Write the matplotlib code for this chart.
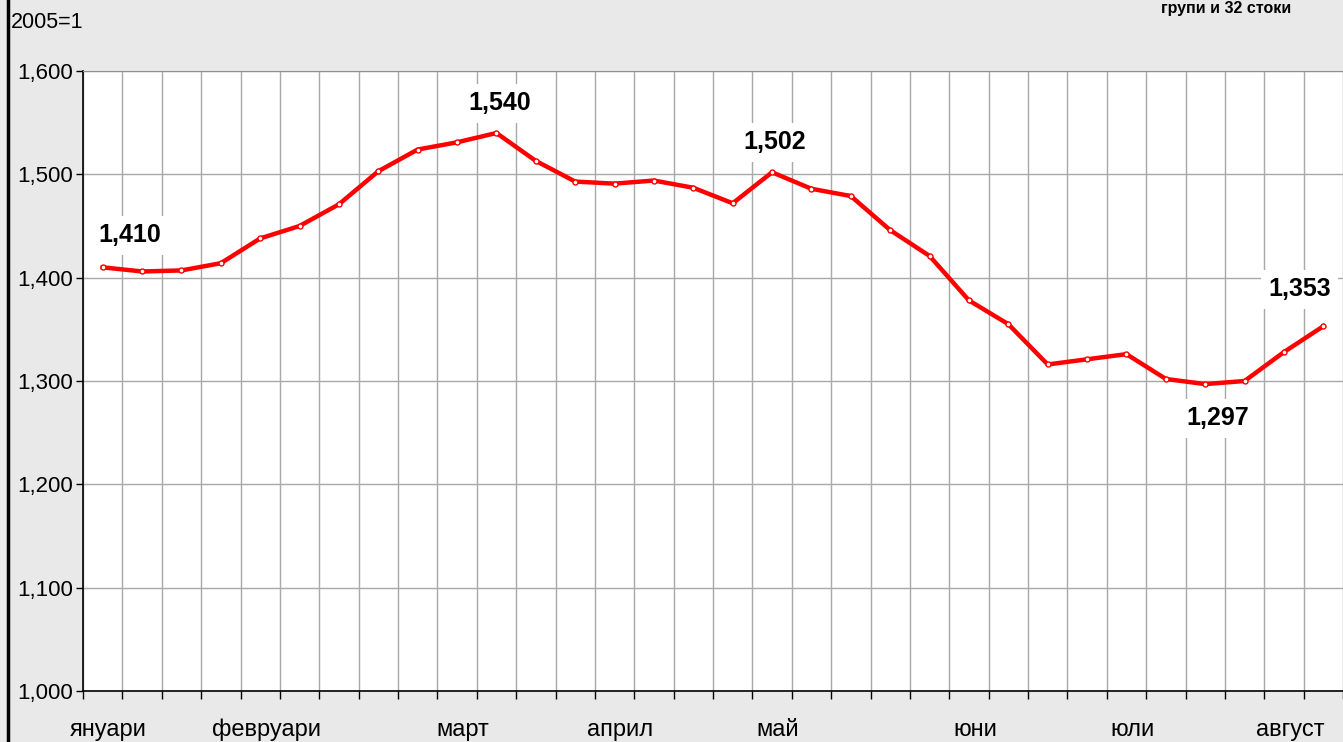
import matplotlib
matplotlib.use("Agg")
import matplotlib.pyplot as plt
import matplotlib.transforms as mtransforms
from matplotlib.lines import Line2D
import numpy as np

plt.rcParams['font.family'] = ['Liberation Sans', 'DejaVu Sans']

# ---- data ----
values = [1.410, 1.406, 1.407, 1.414, 1.438, 1.450, 1.471, 1.503, 1.524, 1.531,
          1.540, 1.513, 1.493, 1.491, 1.494, 1.487, 1.472, 1.502, 1.486, 1.479,
          1.446, 1.421, 1.378, 1.355, 1.316, 1.321, 1.326, 1.302, 1.297, 1.300,
          1.328, 1.353]
month_labels = ['януари', 'февруари', 'март', 'април', 'май', 'юни', 'юли', 'август']
month_positions = [0, 4, 9, 13, 17, 22, 26, 30]
y_ticks = [1.0, 1.1, 1.2, 1.3, 1.4, 1.5, 1.6]
labelled_points = [0, 10, 17, 28, 31]
label_offsets_px = {0: (27, 32), 10: (3, 30), 17: (3, 30), 28: (13, -34), 31: (-24, 37)}
unit_text = '2005=1'
corner_text = 'групи и 32 стоки'

W, H = 1343, 742
fig = plt.figure(figsize=(W / 100, H / 100), dpi=100)
fig.patch.set_facecolor('#E9E9E9')

left, right, top, bottom = 83, 1343, 71, 691
ax = fig.add_axes([left / W, (H - bottom) / H, (right - left) / W, (bottom - top) / H])
ax.set_facecolor('white')

x = np.arange(len(values))
ax.plot(x, values, color='#FF0000', lw=3.2, zorder=3, solid_joinstyle='round',
        marker='o', markersize=3.6, markerfacecolor='white', markeredgecolor='#FF0000',
        markeredgewidth=1.0)

ax.set_xlim(-0.5, len(values) - 0.5)
ax.set_ylim(1.0, 1.6)

# y axis
ax.set_yticks(y_ticks)
ax.set_yticklabels([f"{v:.3f}".replace('.', ',') for v in y_ticks], fontsize=16)
ax.tick_params(axis='y', direction='out', length=5, width=1, pad=2, colors='black')

# x axis: boundaries as major ticks (grid), labels on minor ticks
ax.set_xticks(np.arange(-0.5, len(values), 1.0))
ax.set_xticklabels([])
ax.set_xticks(month_positions, minor=True)
ax.set_xticklabels(month_labels, minor=True, fontsize=17)
ax.tick_params(axis='x', which='major', direction='out', length=6, width=1, colors='black')
ax.tick_params(axis='x', which='minor', length=0, pad=20)
shift = mtransforms.ScaledTranslation(6 / 100, 0, fig.dpi_scale_trans)
for lbl in ax.get_xticklabels(minor=True):
    lbl.set_transform(lbl.get_transform() + shift)

ax.grid(True, which='major', axis='both', color='#A8A8A8', lw=1.0, zorder=0)
ax.set_axisbelow(True)

ax.spines['right'].set_visible(False)
ax.spines['top'].set_color('#909090')
ax.spines['left'].set_color('black')
ax.spines['bottom'].set_color('black')
ax.spines['left'].set_linewidth(1.2)
ax.spines['bottom'].set_linewidth(1.2)

for i in labelled_points:
    dx, dy = label_offsets_px[i]
    ax.annotate(f"{values[i]:.3f}".replace('.', ','), (x[i], values[i]),
                xytext=(dx * 0.72, dy * 0.72), textcoords='offset points',
                ha='center', va='center', fontsize=18, fontweight='bold', zorder=5,
                bbox=dict(boxstyle='square,pad=0.3', fc='white', ec='none'))

# frame line on the left
fig.add_artist(Line2D([8 / W, 8 / W], [0, 1], color='black', lw=2.5, transform=fig.transFigure))

fig.text(11 / W, 1 - 22 / H, unit_text, fontsize=15.5, ha='left', va='center')
fig.text(1226 / W, 1 - 8 / H, corner_text, fontsize=11.5, fontweight='bold', ha='center', va='center')

fig.savefig('out.png', dpi=100, facecolor=fig.get_facecolor())
